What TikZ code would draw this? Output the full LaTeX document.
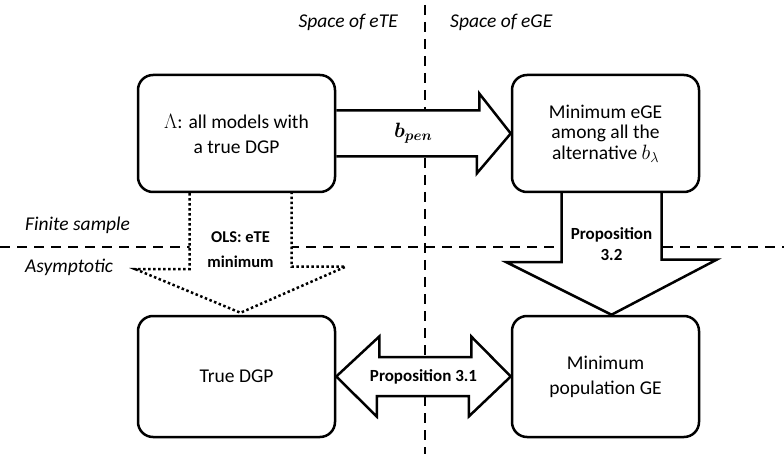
\documentclass[tikz,border=0pt]{standalone}
\usepackage{fontspec}
\setmainfont{Carlito}
\usepackage{amsmath,bm}
\usepackage{tikz}
\usetikzlibrary{calc}
\colorlet{boxline}{black}
\colorlet{splitline}{black}
\pgfdeclarelayer{bg}
\pgfsetlayers{bg,main}
\tikzset{
    modelbox/.style={draw=boxline, line width=2.5pt, rounded corners=15pt, fill=white, minimum height=117pt, align=center, inner sep=0pt, font=\fontsize{19.5}{25}\selectfont},
    blockarrow/.style={draw=boxline, line width=2.5pt, fill=white, line join=miter},
    olsarrow/.style={blockarrow, dash pattern=on 2.5pt off 2.5pt},
    splitdash/.style={splitline, line width=1.6pt, dash pattern=on 10pt off 7pt},
    arrowlabel/.style={font=\fontsize{17}{21}\selectfont\bfseries, align=center, inner sep=0pt},
    sidelabel/.style={font=\fontsize{19.5}{24}\selectfont\itshape, inner sep=0pt}
}

\begin{document}
\begin{tikzpicture}[x=1pt,y=-1pt]
        \useasboundingbox (0,0) rectangle (784,454);
        \node[modelbox, minimum width=197pt] (tl) at (236.5,133.5) {$\Lambda$: all models with\\a true DGP};
        \node[modelbox, minimum width=187pt, font=\fontsize{19.5}{20.5}\selectfont] (tr) at (605.5,133.5) {Minimum eGE\\among all the\\alternative $b_\lambda$};
        \node[modelbox, minimum width=197pt, minimum height=121pt] (bl) at (236.5,376.5) {True DGP};
        \node[modelbox, minimum width=187pt, minimum height=121pt] (br) at (605.5,376.5) {Minimum\\population GE};
        \node[sidelabel, anchor=east] (ete) at (398,22) {Space of eTE};
        \node[sidelabel, anchor=west] (ege) at (450,22) {Space of eGE};
        \node[sidelabel, anchor=west] (finite) at (25,225) {Finite sample};
        \node[sidelabel, anchor=west] (asym) at (25,267) {Asymptotic};
        \coordinate (vtop) at (425,5);
        \coordinate (vbot) at (425,454);
        \coordinate (hleft) at (0,247);
        \coordinate (hright) at (784,247);
        \begin{pgfonlayer}{bg}
            \draw[splitdash] (vtop) -- (vbot);
            \draw[splitdash] (hleft) -- (hright);
            \draw[blockarrow] ($(tl.east)+(0,-23)$) -- ++(143,0) -- ++(0,-17) -- (tr.west) -- ++(-34,40) -- ++(0,-17) -- ($(tl.east)+(0,23)$);
            \draw[olsarrow] ($(tl.south)+(-47,0)$) -- ++(0,76) -- ++(-54,0) -- ($(bl.north)+(4,-2)$) -- ++(105,-46) -- ++(-54,0) -- ($(tl.south)+(55,0)$);
            \draw[blockarrow] ($(tr.south)+(-44,0)$) -- ++(0,69) -- ++(-55,0) -- ($(br.north)+(6,0)$) -- ++(105,-55) -- ++(-55,0) -- ($(tr.south)+(56,0)$);
            \draw[blockarrow] (bl.east) -- ++(43,-40) -- ++(0,20.5) -- ++(92,0) -- ++(0,-20.5) -- (br.west) -- ++(-42,40) -- ++(0,-20.5) -- ++(-92,0) -- ++(0,20.5) -- cycle;
            \node[arrowlabel, font=\fontsize{19.5}{21}\selectfont] (penlbl) at ($(tl.east)+(77,0)$) {$\bm{b_{pen}}$};
            \node[arrowlabel, font=\fontsize{16.5}{25}\selectfont\bfseries] (olslbl) at ($(tl.south)+(4,56)$) {OLS: eTE\\minimum};
            \node[arrowlabel] (proplbl) at ($(tr.south)+(6,51)$) {Proposition\\3.2};
            \node[arrowlabel] (equivlbl) at ($(bl.east)!0.5!(br.west)$) {Proposition 3.1};
        \end{pgfonlayer}
    \end{tikzpicture}
\end{document}
